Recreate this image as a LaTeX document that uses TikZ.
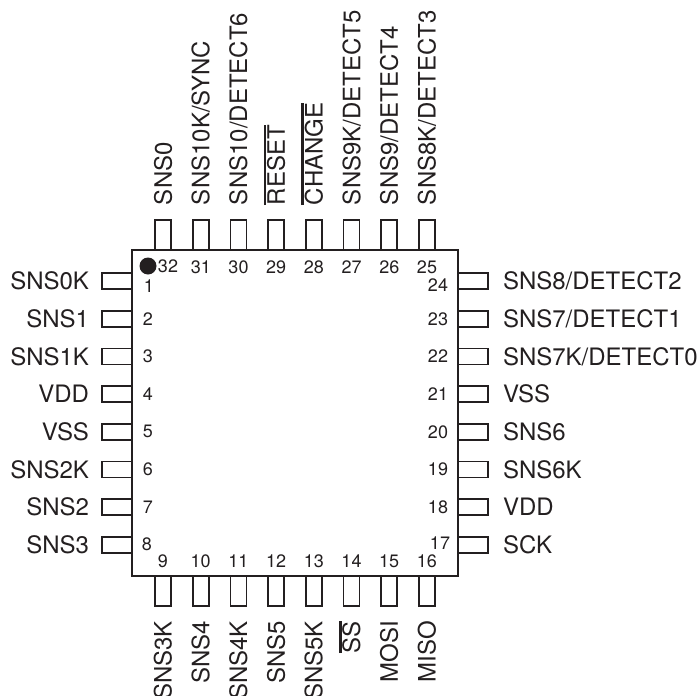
\documentclass[tikz,border=0pt]{standalone}
\usepackage{fontspec}
\setmainfont{TeX Gyre Heros}
\usetikzlibrary{positioning}
\definecolor{ink}{HTML}{231F20}
\tikzset{x = 1pt, y = 1pt,
         every node/.style = {inner sep = 0pt, outer sep = 0pt, text = ink},
         chip/.style = {draw = ink, line width = 1.7pt, minimum width = 326pt, minimum height = 326pt},
         hpin/.style = {draw = ink, line width = 1.7pt, minimum width = 30pt, minimum height = 16pt},
         vpin/.style = {draw = ink, line width = 1.7pt, minimum width = 16pt, minimum height = 30pt},
         pinname/.style = {font = \fontsize{24}{26}\selectfont, text height = 17.3pt, text depth = 0pt},
         pinnum/.style = {font = \fontsize{18}{20}\selectfont}}
\newcommand{\barname}[1]{\vbox{\hrule height 2.8pt \kern 0.6pt \hbox{#1}}}

\begin{document}
\begin{tikzpicture}
        \useasboundingbox (0,0) rectangle (699,-696);
        \node[chip] (chip) at (295,-413) {};
        \node[fill = ink, circle, minimum size = 17pt] (dot) at (148,-266) {};

        % left side
        \foreach \i/\name [evaluate = \i as \ypos using 281+37.7*(\i-1)] in
            {1/SNS0K, 2/SNS1, 3/SNS1K, 4/VDD, 5/VSS, 6/SNS2K, 7/SNS2, 8/SNS3} {
            \node[hpin] (pin\i) at (117,-\ypos) {};
            \node[pinname, anchor = east] (name\i) [left = 13pt of pin\i.west] {\name};
        }
        % bottom side
        \foreach \i/\name [evaluate = \i as \xpos using 163+37.7*(\i-9)] in
            {9/SNS3K, 10/SNS4, 11/SNS4K, 12/SNS5, 13/SNS5K, 14/\barname{SS}, 15/MOSI, 16/MISO} {
            \node[vpin] (pin\i) at (\xpos,-591) {};
            \node[pinname, rotate = 90, anchor = east] (name\i) at (\xpos,-621) {\name};
            \node[pinnum] (num\i) at (\xpos,-561) {\i};
        }
        % right side
        \foreach \i/\name [evaluate = \i as \ypos using 545-37.7*(\i-17)] in
            {17/SCK, 18/VDD, 19/SNS6K, 20/SNS6, 21/VSS, 22/{SNS7K/DETECT0}, 23/{SNS7/DETECT1}, 24/{SNS8/DETECT2}} {
            \node[hpin] (pin\i) at (473,-\ypos) {};
            \node[pinname, anchor = west] (name\i) [right = 15pt of pin\i.east] {\name};
        }
        % top side
        \foreach \i/\name [evaluate = \i as \xpos using 427-37.7*(\i-25)] in
            {25/{SNS8K/DETECT3}, 26/{SNS9/DETECT4}, 27/{SNS9K/DETECT5}, 28/\barname{CHANGE},
             29/\barname{RESET}, 30/{SNS10/DETECT6}, 31/{SNS10K/SYNC}, 32/SNS0} {
            \node[vpin] (pin\i) at (\xpos,-235) {};
            \node[pinname, rotate = 90, anchor = west] (name\i) at (\xpos,-205) {\name};
        }

        % pin numbers
        \foreach \i [evaluate = \i as \ypos using 281+37.7*(\i-1)] in {2,...,7}
            \node[pinnum] (num\i) at (148,-\ypos) {\i};
        \foreach \i [evaluate = \i as \ypos using 545-37.7*(\i-17)] in {18,...,23}
            \node[pinnum] (num\i) at (438,-\ypos) {\i};
        \foreach \i [evaluate = \i as \xpos using 427-37.7*(\i-25)] in {25,...,31}
            \node[pinnum] (num\i) at (\xpos,-267) {\i};
        \node[pinnum] (num1)  at (149,-286) {1};
        \node[pinnum] (num8)  at (147,-544) {8};
        \node[pinnum] (num17) at (440,-543) {17};
        \node[pinnum] (num24) at (438,-285) {24};
        \node[pinnum] (num32) at (168,-266) {32};
    \end{tikzpicture}
\end{document}
